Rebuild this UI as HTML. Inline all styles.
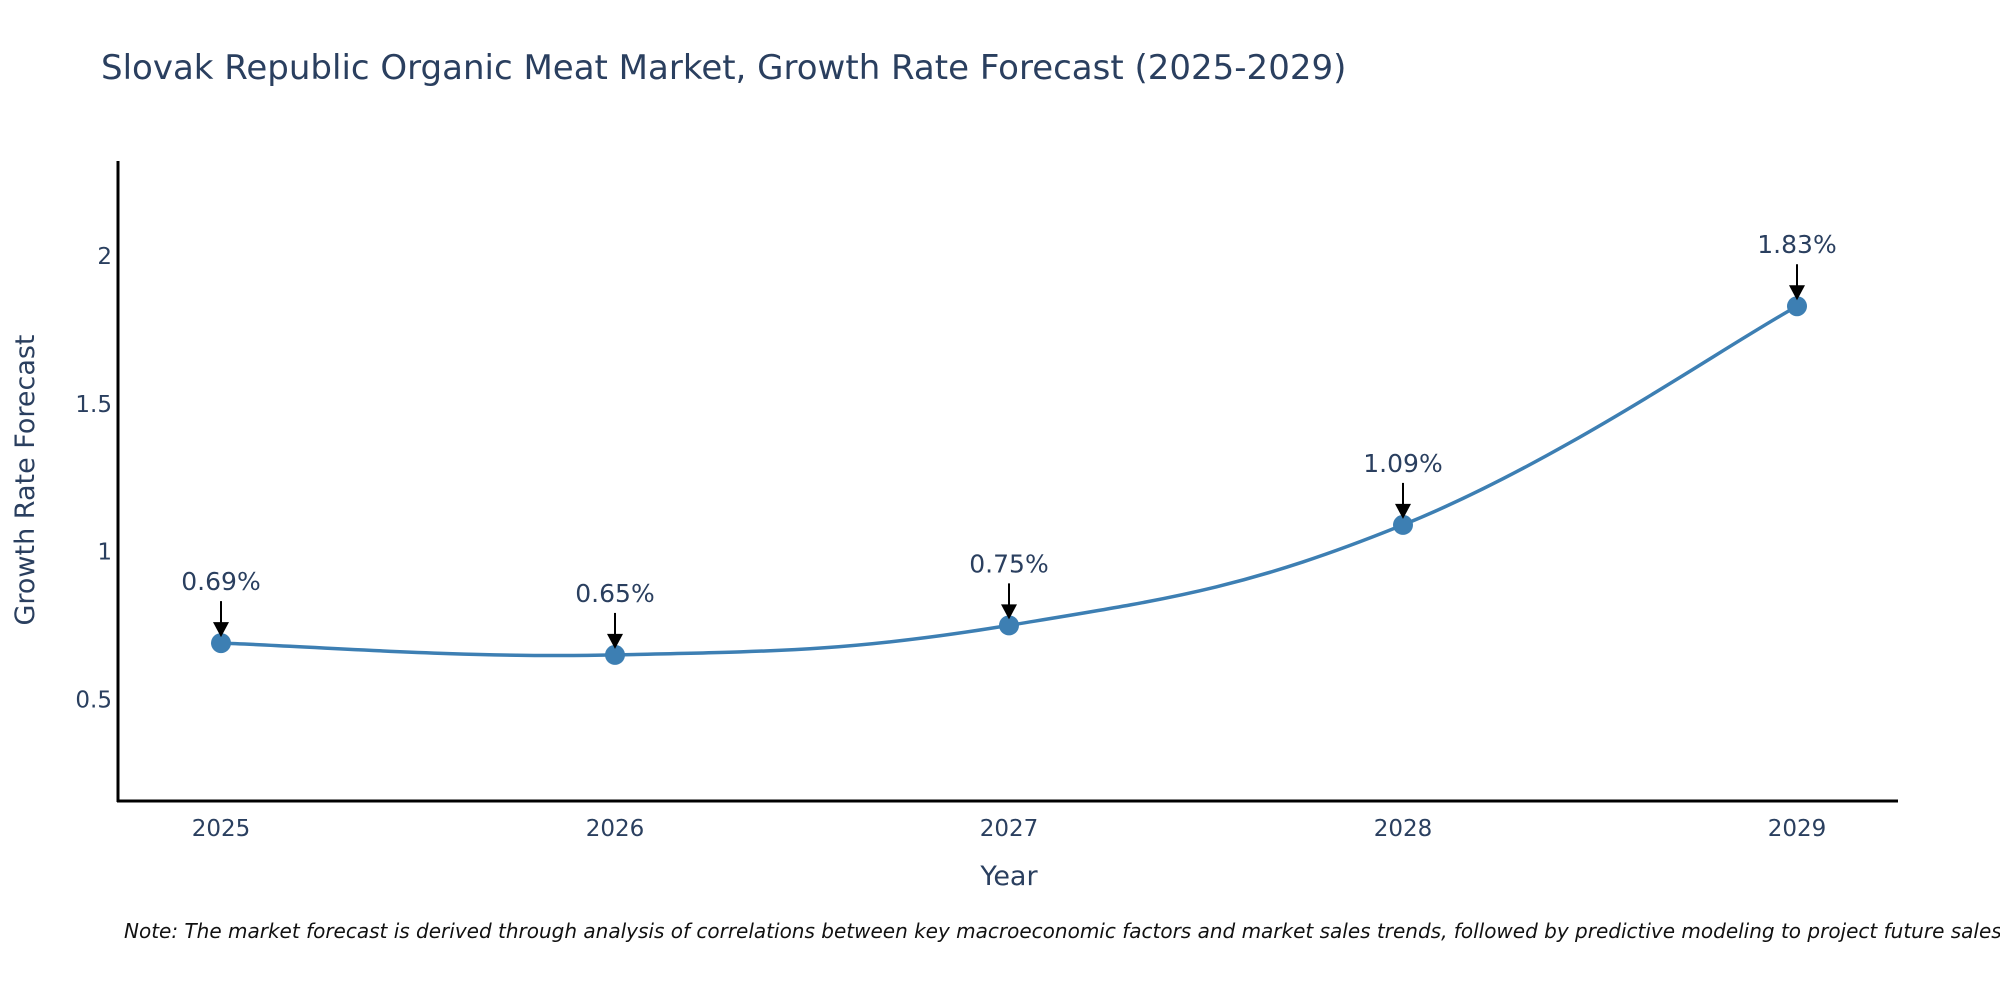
<!DOCTYPE html>
<html><head><meta charset="utf-8"><style>
body{margin:0;background:#fff;}
svg text{font-family:"DejaVu Sans","Liberation Sans",sans-serif;}
</style></head><body>
<svg id="c" width="2000" height="1000" xmlns="http://www.w3.org/2000/svg">
<rect width="2000" height="1000" fill="#fff"/>
<text x="101" y="79" font-size="34" fill="#2a3f5f">Slovak Republic Organic Meat Market, Growth Rate Forecast (2025-2029)</text>
<g id="plot"></g>
<text transform="translate(34,480) rotate(-90)" text-anchor="middle" font-size="27" fill="#2a3f5f">Growth Rate Forecast</text>
<text x="1009" y="885" text-anchor="middle" font-size="27" fill="#2a3f5f">Year</text>
<text x="124" y="938" font-size="20" font-style="italic" fill="#111">Note: The market forecast is derived through analysis of correlations between key macroeconomic factors and market sales trends, followed by predictive modeling to project future sales.</text>
</svg>
<script>
const years = [2025, 2026, 2027, 2028, 2029];
const values = [0.69, 0.65, 0.75, 1.09, 1.83];
const labels = ["0.69%", "0.65%", "0.75%", "1.09%", "1.83%"];
const yTicks = [0.5, 1, 1.5, 2];
const yTickLabels = ["0.5", "1", "1.5", "2"];

const NS = "http://www.w3.org/2000/svg";
const X0 = 118, X1 = 1898, Y0 = 161, Y1 = 801;
const xs = v => 221 + (v - 2025) * 394;
const ys = v => 256 + (2 - v) * 295.5;
const g = document.getElementById('plot');
function mk(tag, attrs){const e=document.createElementNS(NS,tag);for(const k in attrs)e.setAttribute(k,attrs[k]);g.appendChild(e);return e;}

let e = mk('line',{x1:X0,y1:Y0,x2:X0,y2:Y1+1,stroke:'#000','stroke-width':3});


e = mk('line',{x1:X0-1,y1:Y1,x2:X1,y2:Y1,stroke:'#000','stroke-width':3});



yTicks.forEach((t,i)=>{
  const el = mk('text',{x:X0-6,y:ys(t)+8,'text-anchor':'end','font-size':23,fill:'#2a3f5f'});
  el.textContent = yTickLabels[i];
  
  
});
years.forEach(y=>{
  const el = mk('text',{x:xs(y),y:836,'text-anchor':'middle','font-size':23,fill:'#2a3f5f'});
  el.textContent = String(y);
  
  
});

const pts = years.map((y,i)=>[xs(y), ys(values[i])]);
let d = `M${pts[0][0]},${pts[0][1]}`;
const s = 0.2;
for(let i=0;i<pts.length-1;i++){
  const p0=pts[Math.max(0,i-1)], p1=pts[i], p2=pts[i+1], p3=pts[Math.min(pts.length-1,i+2)];
  const c1=[p1[0]+(p2[0]-p0[0])*s, p1[1]+(p2[1]-p0[1])*s];
  const c2=[p2[0]-(p3[0]-p1[0])*s, p2[1]-(p3[1]-p1[1])*s];
  d += ` C${c1[0]},${c1[1]} ${c2[0]},${c2[1]} ${p2[0]},${p2[1]}`;
}
e = mk('path',{d:d,fill:'none',stroke:'#3d7fb3','stroke-width':3.5});



pts.forEach((p,i)=>{
  const c = mk('circle',{cx:p[0],cy:p[1],r:10,fill:'#3d7fb3'});
  
  
  const a = mk('line',{x1:p[0],y1:p[1]-42,x2:p[0],y2:p[1]-20,stroke:'#000','stroke-width':2});
  
  
  const h = mk('polygon',{points:`${p[0]-8},${p[1]-21} ${p[0]+8},${p[1]-21} ${p[0]},${p[1]-6}`,fill:'#000'});
  
  
  const t = mk('text',{x:p[0],y:p[1]-53,'text-anchor':'middle','font-size':25,fill:'#2a3f5f'});
  t.textContent = labels[i];
  
  
});
</script>
</body></html>
